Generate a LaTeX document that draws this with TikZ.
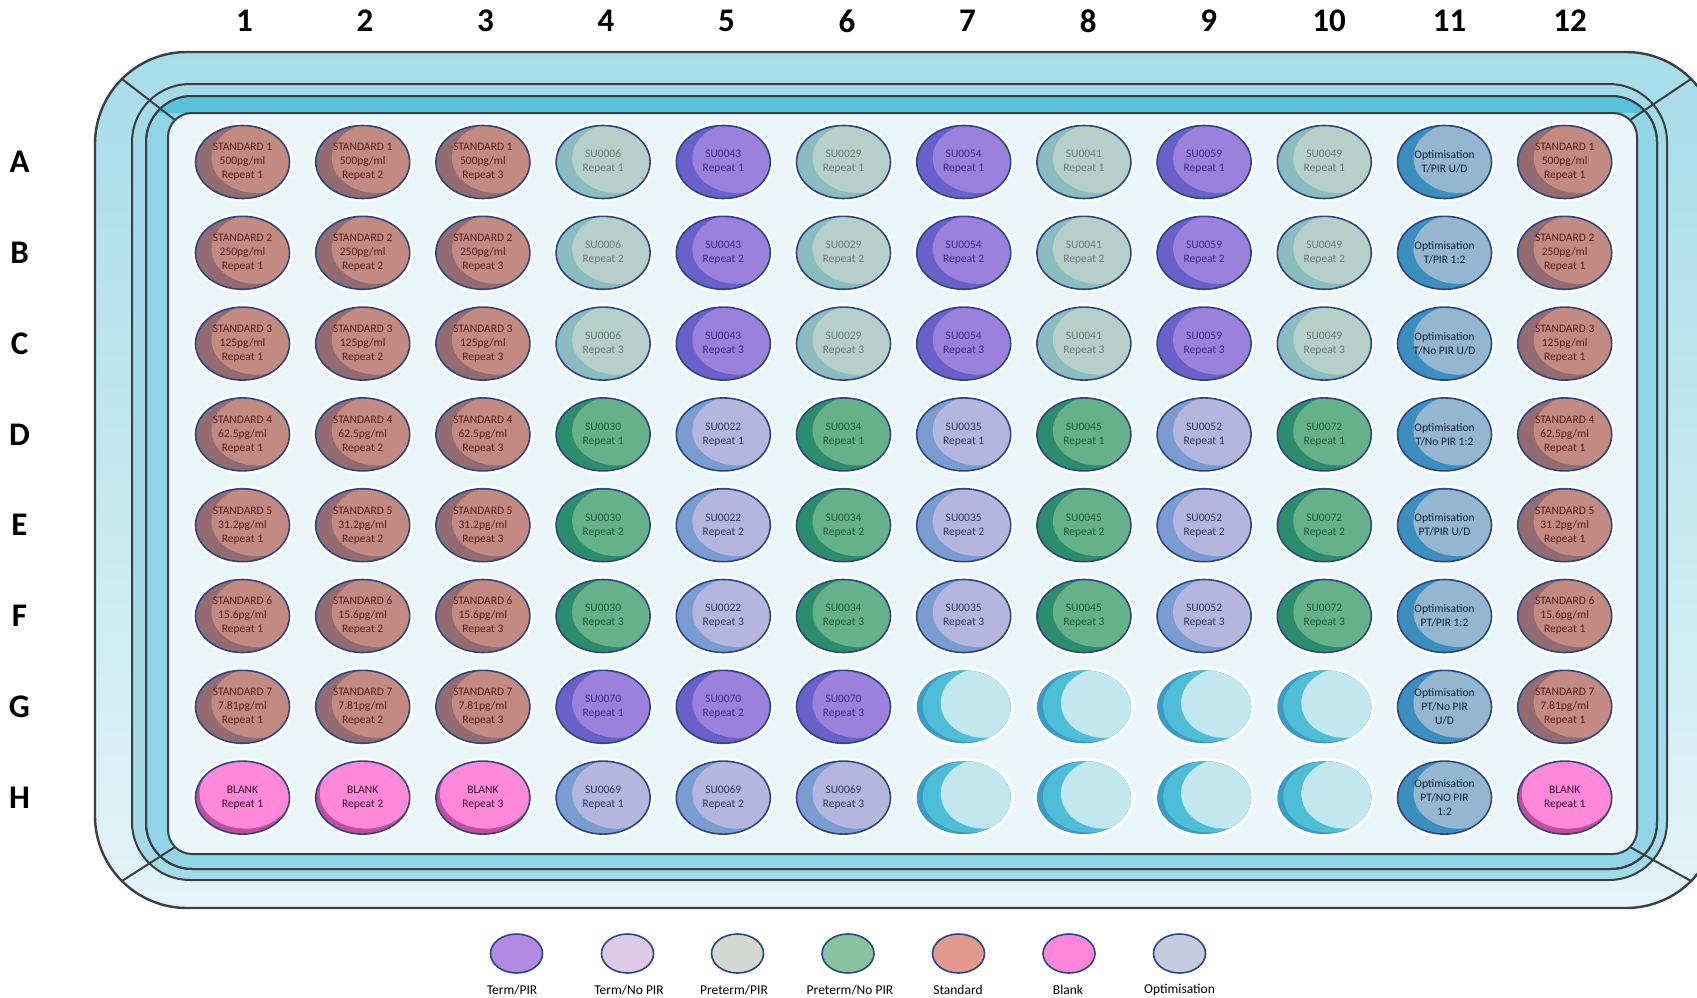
\documentclass[tikz,border=0pt]{standalone}
\usepackage{fontspec}
\setmainfont{Carlito}
\usetikzlibrary{shapes.geometric}
\definecolor{wellborder}{HTML}{26488A}
\definecolor{stdMain}{HTML}{C38A82}
\definecolor{stdDark}{HTML}{946B70}
\definecolor{stdText}{HTML}{5A1C1E}
\definecolor{tpMain}{HTML}{9B80DC}
\definecolor{tpDark}{HTML}{6A60CA}
\definecolor{tpText}{HTML}{44288A}
\definecolor{ppMain}{HTML}{B6CFC9}
\definecolor{ppDark}{HTML}{8BBCC0}
\definecolor{ppText}{HTML}{6C7A7A}
\definecolor{pnMain}{HTML}{66B08A}
\definecolor{pnDark}{HTML}{2C8D6C}
\definecolor{pnText}{HTML}{1E5A3C}
\definecolor{tnMain}{HTML}{B4B6DE}
\definecolor{tnDark}{HTML}{7A9CD0}
\definecolor{tnText}{HTML}{2C3A60}
\definecolor{opMain}{HTML}{94B6CF}
\definecolor{opDark}{HTML}{3C8EBE}
\definecolor{opText}{HTML}{0F1E3A}
\definecolor{blMain}{HTML}{FF88D8}
\definecolor{blDark}{HTML}{C04E9C}
\definecolor{blText}{HTML}{3A0A2C}
\definecolor{emMain}{HTML}{C3E7EF}
\definecolor{emCyan}{HTML}{4DBDD8}
\definecolor{emDark}{HTML}{3A9BC4}
\definecolor{plateIn}{HTML}{EAF6FA}
\definecolor{rimTop}{HTML}{A6DCEA}
\definecolor{rimBot}{HTML}{E3F4F8}
\definecolor{bandA}{HTML}{A3DBE9}
\definecolor{bandB}{HTML}{90D4E6}
\definecolor{bandBright}{HTML}{57C2DB}
\definecolor{rimLine}{HTML}{3A3F42}
\definecolor{legTP}{HTML}{B28AE2}
\definecolor{legTN}{HTML}{DCC9E6}
\definecolor{legPP}{HTML}{D3D9D1}
\definecolor{legPN}{HTML}{87C29C}
\definecolor{legST}{HTML}{E29A8E}
\definecolor{legBL}{HTML}{FF86D8}
\definecolor{legOP}{HTML}{C6CBE0}
\tikzset{
  wellbase/.style={ellipse, minimum width=94pt, minimum height=73pt, inner sep=0pt,
    align=center, font=\fontsize{11.5}{14}\selectfont,
    preaction={draw=white, line width=7pt}},
  twotone/.style n args={3}{wellbase, fill=#1, draw=wellborder, line width=1.6pt, text=#3,
    path picture={\fill[#2] ([xshift=14pt,yshift=4pt]path picture bounding box.center) ellipse (45pt and 35pt);}},
  stdw/.style={twotone={stdDark}{stdMain}{stdText}},
  tpw/.style={twotone={tpDark}{tpMain}{tpText}},
  ppw/.style={twotone={ppDark}{ppMain}{ppText}},
  pnw/.style={twotone={pnDark}{pnMain}{pnText}},
  tnw/.style={twotone={tnDark}{tnMain}{tnText}},
  opw/.style={twotone={opDark}{opMain}{opText}},
  blw/.style={wellbase, fill=blDark, draw=wellborder, line width=1.6pt, text=blText,
    path picture={\fill[blMain] ([xshift=3pt,yshift=4pt]path picture bounding box.center) ellipse (46pt and 35pt);}},
  emw/.style={wellbase, fill=emDark,
    path picture={\fill[emCyan] ([xshift=5pt,yshift=1pt]path picture bounding box.center) ellipse (46pt and 36pt);
                  \fill[emMain] ([xshift=20pt,yshift=4pt]path picture bounding box.center) ellipse (43pt and 35pt);}},
  headtxt/.style={font=\fontsize{33}{36}\selectfont\bfseries, text=black},
  legw/.style={ellipse, minimum width=52pt, minimum height=39pt, inner sep=0pt,
    draw=wellborder, line width=1.6pt, fill=#1},
  legt/.style={font=\fontsize{13.5}{15}\selectfont, text=black},
  rim/.style={draw=rimLine, line width=2pt},
}
\newcommand{\mywell}[4]{\node[#3] (w#1-#2) at ({242.5+120.2*(#2-1)},{162+90.8*(#1-1)}) {#4};}
\begin{document}
\begin{tikzpicture}[x=1pt,y=-1pt]
\useasboundingbox (0,0) rectangle (1697,998);
\fill[white] (0,0) rectangle (1697,998);
% plate
\begin{scope}
\clip (0,0) rectangle (1697,998);
\path[rim, line width=2.4pt, top color=rimTop, bottom color=rimBot, rounded corners=92pt] (95,52) rectangle (1718,908);
\path[rim, fill=bandA, rounded corners=58pt] (132,84) rectangle (1667,880);
\path[rim, fill=bandB, rounded corners=46pt] (146,96) rectangle (1657,869);
\begin{scope}
\clip[rounded corners=46pt] (146,96) rectangle (1657,869);
\fill[bandBright] (140,90) rectangle (1665,113);
\end{scope}
\draw[rim, rounded corners=46pt] (146,96) rectangle (1657,869);
\draw[rim] (175,120) -- (122,79);
\draw[rim] (1630,120) -- (1691,79);
\draw[rim] (175,847) -- (122,881);
\draw[rim] (1630,847) -- (1691,881);
\path[rim, fill=plateIn, rounded corners=24pt] (168,113) rectangle (1637,854);
\end{scope}
% headers
\foreach \cc in {1,...,12} {\node[headtxt] (h\cc) at ({244.6+120.5*(\cc-1)},21) {\cc};}
\foreach \rr/\lab in {1/A,2/B,3/C,4/D,5/E,6/F,7/G,8/H} {\node[headtxt] (r\lab) at (19.5,{162+90.8*(\rr-1)}) {\lab};}
% standards
\foreach \rr/\cn in {1/500,2/250,3/125,4/62.5,5/31.2,6/15.6,7/7.81} {
  \foreach \kk in {1,2,3} {\mywell{\rr}{\kk}{stdw}{STANDARD \rr\\\cn pg/ml\\Repeat \kk}}
  \mywell{\rr}{12}{stdw}{STANDARD \rr\\\cn pg/ml\\Repeat 1}
}
% blanks
\foreach \kk in {1,2,3} {\mywell{8}{\kk}{blw}{BLANK\\Repeat \kk}}
\mywell{8}{12}{blw}{BLANK\\Repeat 1}
% rows A-C samples
\foreach \cc/\id in {4/SU0006,6/SU0029,8/SU0041,10/SU0049} {\foreach \rr in {1,2,3} {\mywell{\rr}{\cc}{ppw}{\id\\Repeat \rr}}}
\foreach \cc/\id in {5/SU0043,7/SU0054,9/SU0059} {\foreach \rr in {1,2,3} {\mywell{\rr}{\cc}{tpw}{\id\\Repeat \rr}}}
% rows D-F samples
\foreach \cc/\id in {4/SU0030,6/SU0034,8/SU0045,10/SU0072} {\foreach \rr/\kk in {4/1,5/2,6/3} {\mywell{\rr}{\cc}{pnw}{\id\\Repeat \kk}}}
\foreach \cc/\id in {5/SU0022,7/SU0035,9/SU0052} {\foreach \rr/\kk in {4/1,5/2,6/3} {\mywell{\rr}{\cc}{tnw}{\id\\Repeat \kk}}}
% rows G-H samples
\foreach \cc/\kk in {4/1,5/2,6/3} {\mywell{7}{\cc}{tpw}{SU0070\\Repeat \kk}}
\foreach \cc/\kk in {4/1,5/2,6/3} {\mywell{8}{\cc}{tnw}{SU0069\\Repeat \kk}}
% empty
\foreach \rr in {7,8} {\foreach \cc in {7,8,9,10} {\mywell{\rr}{\cc}{emw}{}}}
% optimisation
\mywell{1}{11}{opw}{Optimisation\\T/PIR U/D}
\mywell{2}{11}{opw}{Optimisation\\T/PIR 1:2}
\mywell{3}{11}{opw}{Optimisation\\T/No PIR U/D}
\mywell{4}{11}{opw}{Optimisation\\T/No PIR 1:2}
\mywell{5}{11}{opw}{Optimisation\\PT/PIR U/D}
\mywell{6}{11}{opw}{Optimisation\\PT/PIR 1:2}
\mywell{7}{11}{opw}{Optimisation\\PT/No PIR\\U/D}
\mywell{8}{11}{opw}{Optimisation\\PT/NO PIR\\1:2}
% legend
\node[legw=legTP] (l1) at (516.5,953.5) {};
\node[legw=legTN] (l2) at (627.5,953.5) {};
\node[legw=legPP] (l3) at (737.5,953.5) {};
\node[legw=legPN] (l4) at (848,953.5) {};
\node[legw=legST] (l5) at (958.5,953.5) {};
\node[legw=legBL] (l6) at (1069,953.5) {};
\node[legw=legOP] (l7) at (1179.5,953.5) {};
\node[legt] (t1) at (512,990) {Term/PIR};
\node[legt] (t2) at (629,990) {Term/No PIR};
\node[legt] (t3) at (734,990) {Preterm/PIR};
\node[legt] (t4) at (850,990) {Preterm/No PIR};
\node[legt] (t5) at (958,990) {Standard};
\node[legt] (t6) at (1068,990) {Blank};
\node[legt] (t7) at (1179.5,990) {Optimisation};
\end{tikzpicture}
\end{document}
